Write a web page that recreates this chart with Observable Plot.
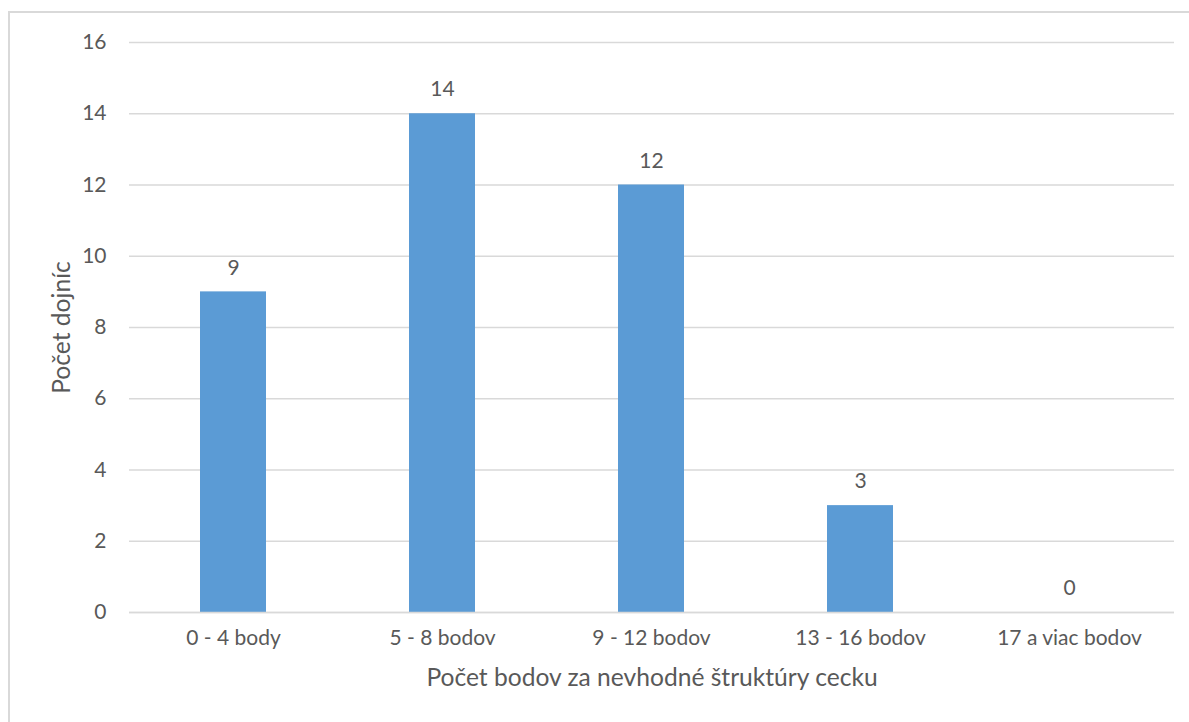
<!DOCTYPE html>
<html>
<head>
<meta charset="utf-8">
<script src="https://cdn.jsdelivr.net/npm/d3@7"></script>
<script src="https://cdn.jsdelivr.net/npm/@observablehq/plot@0.6"></script>
<style>
  html, body { margin: 0; padding: 0; background: #fff; }
  #wrap { position: relative; width: 1189px; height: 722px; overflow: hidden; }
  #frame { position: absolute; left: 8px; top: 11px; width: 1400px; height: 900px;
           border-left: 2px solid #D9D9D9; border-top: 2px solid #D9D9D9; pointer-events: none; }
  svg { font-family: Lato, "Open Sans", sans-serif; }
</style>
</head>
<body>
<div id="wrap"><div id="frame"></div></div>
<script>
const categories = ["0 - 4 body", "5 - 8 bodov", "9 - 12 bodov", "13 - 16 bodov", "17 a viac bodov"];
const counts = [9, 14, 12, 3, 0];
const yTicks = [0, 2, 4, 6, 8, 10, 12, 14, 16];
const xTitle = "Počet bodov za nevhodné štruktúry cecku";
const yTitle = "Počet dojníc";

const data = categories.map((c, i) => ({category: c, count: counts[i]}));
const textColor = "#595959";

const chart = Plot.plot({
  width: 1189,
  height: 722,
  marginLeft: 129,
  marginRight: 15,
  marginTop: 42,
  marginBottom: 110,
  style: {fontFamily: "Lato, 'Open Sans', sans-serif", color: textColor, background: "transparent"},
  x: {domain: categories, paddingInner: 0.684, paddingOuter: 0.342, label: null},
  y: {domain: [0, 16], label: null},
  marks: [
    Plot.gridY(yTicks, {stroke: "#D9D9D9", strokeOpacity: 1, strokeWidth: 1.3}),
    Plot.barY(data, {x: "category", y: "count", fill: "#5B9BD5"}),
    Plot.ruleY([0], {stroke: "#D9D9D9", strokeWidth: 1.6}),
    Plot.axisY(yTicks, {tickSize: 0, tickPadding: 23, fontSize: 21, fill: textColor, label: null}),
    Plot.axisX({tickSize: 0, tickPadding: 18, fontSize: 21, fill: textColor, label: null}),
    Plot.text(data, {x: "category", y: "count", text: d => String(d.count), dy: -24, fontSize: 21, fill: textColor}),
    Plot.text([xTitle], {frameAnchor: "bottom", dy: 73, fontSize: 24.6, fill: textColor}),
    Plot.text([yTitle], {frameAnchor: "left", textAnchor: "middle", dx: -67, rotate: -90, fontSize: 24.6, fill: textColor})
  ]
});
document.getElementById("wrap").prepend(chart);
</script>
</body>
</html>
